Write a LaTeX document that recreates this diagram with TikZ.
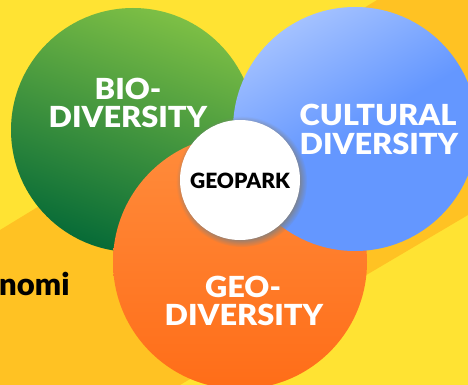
\documentclass[tikz,border=0pt]{standalone}
\usepackage{fontspec}
\setmainfont{Lato}
\newfontfamily\heavy{Lato Black}
\usetikzlibrary{shadows}
\definecolor{bgLight}{HTML}{FFE333}
\definecolor{bgBand}{HTML}{FFC223}
\definecolor{greenTop}{HTML}{7DBF45}
\definecolor{greenBot}{HTML}{076B37}
\definecolor{blueTop}{HTML}{A3C1FF}
\definecolor{blueBot}{HTML}{6497FF}
\definecolor{orangeTop}{HTML}{FF8C3C}
\definecolor{orangeBot}{HTML}{FF6D18}
\tikzset{
  bubble/.style={circle, inner sep=0pt, minimum size=#1},
  bigtext/.style={text=white, font=\heavy\fontsize{29}{30}\selectfont, inner sep=0pt, anchor=base, xscale=1.06},
}
\begin{document}
\begin{tikzpicture}[x=1pt,y=-1pt]
\useasboundingbox (0,0) rectangle (468,385);
\fill[bgLight] (0,0) rectangle (468,385);
\fill[bgBand] (0,230) -- (377,0) -- (468,0) -- (468,215) -- (180,385) -- (0,385) -- cycle;
\node[bubble=244pt, top color=greenTop, bottom color=greenBot, shading angle=-20] (bio) at (133,130) {};
\node[bubble=254pt, top color=orangeTop, bottom color=orangeBot] (geo) at (240,262) {};
\node[bubble=244pt, top color=blueTop, bottom color=blueBot, middle color=blueBot, shading angle=30] (cul) at (355,129) {};
\node[bubble=120pt, fill=white, circular drop shadow={shadow xshift=1.5pt, shadow yshift=-1.5pt, shadow scale=1.09, opacity=1}] (park) at (240,180) {};
\node[bigtext] (bio1) at (128,100) {BIO-};
\node[bigtext] (bio2) at (128,128) {DIVERSITY};
\node[bigtext] (cul1) at (378,125) {CULTURAL};
\node[bigtext] (cul2) at (379,154) {DIVERSITY};
\node[bigtext] (geo1) at (243,297) {GEO-};
\node[bigtext] (geo2) at (244,325) {DIVERSITY};
\node[font=\heavy\fontsize{21}{22}\selectfont, inner sep=0pt, anchor=base] (parkt) at (240,188) {GEOPARK};
\node[font=\heavy\fontsize{31}{33}\selectfont, inner sep=0pt, anchor=base west] (nomi) at (-1,295) {nomi};
\end{tikzpicture}
\end{document}
